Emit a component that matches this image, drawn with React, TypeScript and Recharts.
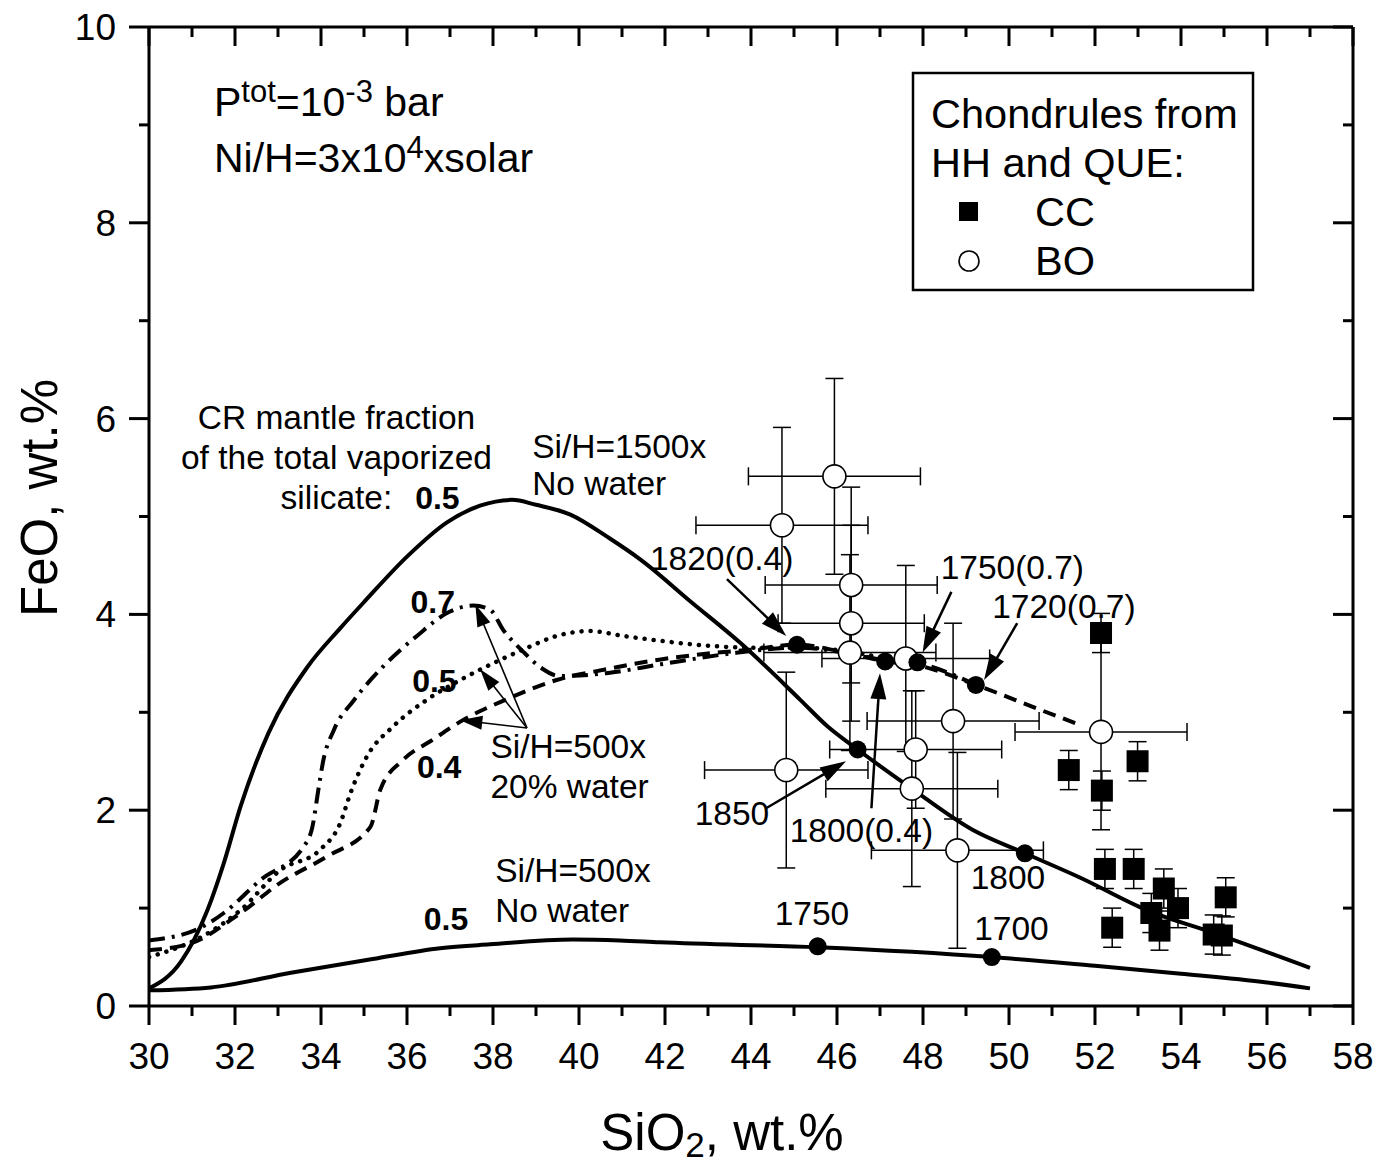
import React from 'react';
import {
  ComposedChart,
  Line,
  Scatter,
  XAxis,
  YAxis,
  ErrorBar,
  ReferenceLine,
  ReferenceDot,
} from 'recharts';

const FONT = '"Liberation Sans", Arial, Helvetica, sans-serif';
const PLOT_TOP = 27;

// ---------- axis ticks ----------
const X_TICKS = [30, 31, 32, 33, 34, 35, 36, 37, 38, 39, 40, 41, 42, 43, 44, 45, 46, 47, 48, 49, 50, 51, 52, 53, 54, 55, 56, 57, 58];
const Y_TICKS = [0, 1, 2, 3, 4, 5, 6, 7, 8, 9, 10];

// ---------- model curves (SiO2 wt.%, FeO wt.%) ----------
const curve1500NoWater = [
  { x: 30.0, y: 0.18 }, { x: 30.74, y: 0.45 }, { x: 31.36, y: 0.98 }, { x: 31.74, y: 1.46 },
  { x: 32.13, y: 2.04 }, { x: 32.78, y: 2.79 }, { x: 33.68, y: 3.46 }, { x: 34.45, y: 3.86 },
  { x: 35.03, y: 4.14 }, { x: 36.0, y: 4.59 }, { x: 36.93, y: 4.94 }, { x: 37.7, y: 5.11 },
  { x: 38.44, y: 5.17 }, { x: 39.0, y: 5.12 }, { x: 39.8, y: 5.02 }, { x: 40.7, y: 4.78 },
  { x: 41.43, y: 4.56 }, { x: 42.6, y: 4.13 }, { x: 43.75, y: 3.71 }, { x: 45.14, y: 3.13 },
  { x: 45.77, y: 2.86 }, { x: 46.48, y: 2.62 }, { x: 47.74, y: 2.22 }, { x: 49.15, y: 1.8 },
  { x: 50.37, y: 1.56 }, { x: 51.66, y: 1.31 }, { x: 53.2, y: 0.98 }, { x: 54.74, y: 0.75 },
  { x: 57.0, y: 0.39 },
];

const curve500NoWater = [
  { x: 30.0, y: 0.16 }, { x: 31.44, y: 0.19 }, { x: 33.3, y: 0.34 }, { x: 35.2, y: 0.48 },
  { x: 36.77, y: 0.59 }, { x: 37.93, y: 0.63 }, { x: 39.86, y: 0.68 }, { x: 40.95, y: 0.67 },
  { x: 41.88, y: 0.65 }, { x: 45.55, y: 0.6 }, { x: 49.6, y: 0.5 }, { x: 52.0, y: 0.41 },
  { x: 54.0, y: 0.33 }, { x: 56.0, y: 0.24 }, { x: 57.0, y: 0.18 },
];

const curveWater07 = [
  { x: 30.0, y: 0.67 }, { x: 31.2, y: 0.8 }, { x: 31.74, y: 0.95 }, { x: 32.6, y: 1.29 },
  { x: 33.6, y: 1.63 }, { x: 33.8, y: 1.83 }, { x: 33.95, y: 2.24 }, { x: 34.05, y: 2.5 },
  { x: 34.3, y: 2.82 }, { x: 34.76, y: 3.12 }, { x: 35.45, y: 3.47 }, { x: 36.23, y: 3.78 },
  { x: 37.0, y: 4.03 }, { x: 37.54, y: 4.09 }, { x: 37.93, y: 4.05 }, { x: 38.24, y: 3.84 },
  { x: 38.7, y: 3.62 }, { x: 39.1, y: 3.46 }, { x: 39.56, y: 3.37 }, { x: 40.64, y: 3.4 },
  { x: 41.9, y: 3.49 }, { x: 43.7, y: 3.61 }, { x: 45.07, y: 3.66 }, { x: 46.3, y: 3.6 },
  { x: 47.12, y: 3.53 }, { x: 47.87, y: 3.5 }, { x: 49.23, y: 3.28 },
];

const curveWater05 = [
  { x: 30.0, y: 0.5 }, { x: 31.36, y: 0.74 }, { x: 32.13, y: 0.98 }, { x: 33.06, y: 1.39 },
  { x: 33.99, y: 1.6 }, { x: 34.45, y: 1.87 }, { x: 34.69, y: 2.18 }, { x: 35.07, y: 2.55 },
  { x: 35.69, y: 2.86 }, { x: 36.47, y: 3.13 }, { x: 37.24, y: 3.33 }, { x: 38.0, y: 3.5 },
  { x: 38.8, y: 3.66 }, { x: 39.48, y: 3.78 }, { x: 40.26, y: 3.83 }, { x: 41.03, y: 3.78 },
  { x: 41.9, y: 3.73 }, { x: 43.0, y: 3.68 }, { x: 44.0, y: 3.66 }, { x: 45.0, y: 3.66 },
  { x: 46.3, y: 3.62 }, { x: 47.1, y: 3.55 }, { x: 47.6, y: 3.5 },
];

const curveWater04 = [
  { x: 30.0, y: 0.57 }, { x: 30.97, y: 0.64 }, { x: 32.13, y: 0.95 }, { x: 33.06, y: 1.26 },
  { x: 34.15, y: 1.53 }, { x: 35.15, y: 1.83 }, { x: 35.38, y: 2.21 }, { x: 35.9, y: 2.51 },
  { x: 36.6, y: 2.72 }, { x: 37.3, y: 2.92 }, { x: 38.3, y: 3.13 }, { x: 39.48, y: 3.33 },
  { x: 40.64, y: 3.44 }, { x: 41.9, y: 3.54 }, { x: 43.0, y: 3.6 }, { x: 44.0, y: 3.64 },
  { x: 45.07, y: 3.69 }, { x: 46.3, y: 3.6 }, { x: 47.12, y: 3.52 }, { x: 47.87, y: 3.48 },
  { x: 49.23, y: 3.28 }, { x: 50.7, y: 3.03 }, { x: 51.6, y: 2.88 },
];

// temperature markers on the curves
const tempMarkers = [
  { x: 45.07, y: 3.69 }, { x: 47.12, y: 3.52 }, { x: 47.87, y: 3.51 }, { x: 49.23, y: 3.28 },
  { x: 46.48, y: 2.62 }, { x: 50.37, y: 1.56 }, { x: 45.55, y: 0.61 }, { x: 49.6, y: 0.5 },
];

// ---------- chondrule data ----------
const boData = [
  { x: 44.82, y: 2.41, ex: 1.9, ey: 1.0 },
  { x: 44.72, y: 4.91, ex: 2.0, ey: 1.0 },
  { x: 45.94, y: 5.41, ex: 2.0, ey: 1.0 },
  { x: 46.33, y: 4.3, ex: 2.0, ey: 1.0 },
  { x: 46.33, y: 3.91, ex: 1.7, ey: 1.0 },
  { x: 46.3, y: 3.61, ex: 2.0, ey: 1.0 },
  { x: 47.6, y: 3.55, ex: 1.95, ey: 0.95 },
  { x: 47.83, y: 2.62, ex: 2.0, ey: 0.6 },
  { x: 47.74, y: 2.22, ex: 2.0, ey: 1.0 },
  { x: 48.7, y: 2.91, ex: 2.0, ey: 1.0 },
  { x: 48.8, y: 1.59, ex: 2.0, ey: 1.0 },
  { x: 52.14, y: 2.8, ex: 2.0, ey: 1.0 },
];

const ccData = [
  { x: 52.14, y: 3.81, ey: 0.2 }, { x: 51.39, y: 2.41, ey: 0.2 }, { x: 52.16, y: 2.2, ey: 0.2 },
  { x: 52.99, y: 2.5, ey: 0.2 }, { x: 52.23, y: 1.4, ey: 0.2 }, { x: 52.9, y: 1.4, ey: 0.2 },
  { x: 52.4, y: 0.8, ey: 0.2 }, { x: 53.6, y: 1.2, ey: 0.2 }, { x: 53.31, y: 0.95, ey: 0.2 },
  { x: 53.93, y: 1.0, ey: 0.2 }, { x: 53.5, y: 0.77, ey: 0.2 }, { x: 55.04, y: 1.11, ey: 0.2 },
  { x: 54.76, y: 0.73, ey: 0.2 }, { x: 54.95, y: 0.72, ey: 0.2 },
];

// ---------- annotations ----------
const arrows = [
  { from: [43.44, 4.36], to: [44.82, 3.78], w: 2.5 },
  { from: [48.66, 4.23], to: [47.99, 3.61], w: 2.5 },
  { from: [50.19, 3.91], to: [49.42, 3.33], w: 2.5 },
  { from: [44.35, 2.02], to: [46.21, 2.5], w: 2.5 },
  { from: [46.8, 2.02], to: [47.0, 3.4], w: 2.5 },
  { from: [38.79, 2.84], to: [37.59, 4.1], w: 1.6 },
  { from: [38.79, 2.84], to: [37.7, 3.44], w: 1.6 },
  { from: [38.79, 2.84], to: [37.24, 2.92], w: 1.6 },
];

const labels = [
  { x: 34.36, y: 5.89, text: 'CR mantle fraction', anchor: 'middle' },
  { x: 34.36, y: 5.49, text: 'of the total vaporized', anchor: 'middle' },
  { x: 33.06, y: 5.08, text: 'silicate:' },
  { x: 36.19, y: 5.08, text: '0.5', bold: true },
  { x: 38.91, y: 5.6, text: 'Si/H=1500x' },
  { x: 38.91, y: 5.22, text: 'No water' },
  { x: 41.65, y: 4.45, text: '1820(0.4)' },
  { x: 48.41, y: 4.36, text: '1750(0.7)' },
  { x: 49.61, y: 3.96, text: '1720(0.7)' },
  { x: 42.69, y: 1.85, text: '1850' },
  { x: 44.9, y: 1.68, text: '1800(0.4)' },
  { x: 49.11, y: 1.19, text: '1800' },
  { x: 44.55, y: 0.83, text: '1750' },
  { x: 49.19, y: 0.67, text: '1700' },
  { x: 38.05, y: 1.27, text: 'Si/H=500x' },
  { x: 38.05, y: 0.86, text: 'No water' },
  { x: 36.39, y: 0.78, text: '0.5', bold: true },
  { x: 37.94, y: 2.53, text: 'Si/H=500x' },
  { x: 37.94, y: 2.12, text: '20% water' },
  { x: 36.08, y: 4.01, text: '0.7', bold: true },
  { x: 36.12, y: 3.21, text: '0.5', bold: true },
  { x: 36.23, y: 2.33, text: '0.4', bold: true },
];

const headerLines = [
  { x: 31.51, y: 9.09, parts: [['P', 0], ['tot', 1], ['=10', 0], ['-3', 1], [' bar', 0]] },
  { x: 31.51, y: 8.52, parts: [['Ni/H=3x10', 0], ['4', 1], ['xsolar', 0]] },
];

// ---------- renderers ----------
const tickLine = (x1: number, y1: number, x2: number, y2: number) => (
  <line x1={x1} y1={y1} x2={x2} y2={y2} stroke="#000" strokeWidth={3} />
);

// bottom axis tick: outward tick + label, plus the matching inward tick on the top frame
const BottomTick = (p: any) => {
  const v = p.payload.value;
  const major = v % 2 === 0;
  const len = major ? 19 : 10;
  return (
    <g>
      {tickLine(p.x, p.y, p.x, p.y + len)}
      {tickLine(p.x, PLOT_TOP, p.x, PLOT_TOP + len)}
      {major && (
        <text x={p.x} y={p.y + 63} textAnchor="middle" fontSize={37} fontFamily={FONT} fill="#000">
          {v}
        </text>
      )}
    </g>
  );
};
const LeftTick = (p: any) => {
  const v = p.payload.value;
  const major = v % 2 === 0;
  return (
    <g>
      {tickLine(p.x, p.y, p.x - (major ? 20 : 10), p.y)}
      {major && (
        <text x={p.x - 33} y={p.y + 13} textAnchor="end" fontSize={37} fontFamily={FONT} fill="#000">
          {v}
        </text>
      )}
    </g>
  );
};
const RightTick = (p: any) => {
  const v = p.payload.value;
  const major = v % 2 === 0;
  return <g>{tickLine(p.x, p.y, p.x - (major ? 20 : 10), p.y)}</g>;
};

const ArrowShape = (w: number) => (p: any) => {
  const { x1, y1, x2, y2 } = p;
  const dx = x2 - x1;
  const dy = y2 - y1;
  const len = Math.hypot(dx, dy) || 1;
  const ux = dx / len;
  const uy = dy / len;
  const hl = w > 2 ? 26 : 22;
  const hw = w > 2 ? 8 : 7;
  const bx = x2 - ux * hl;
  const by = y2 - uy * hl;
  return (
    <g>
      <line x1={x1} y1={y1} x2={bx + ux * 2} y2={by + uy * 2} stroke="#000" strokeWidth={w} />
      <polygon
        points={`${x2},${y2} ${bx - uy * hw},${by + ux * hw} ${bx + uy * hw},${by - ux * hw}`}
        fill="#000"
      />
    </g>
  );
};

const TextShape = (a: any) => (p: any) => (
  <text
    x={p.cx}
    y={p.cy}
    textAnchor={a.anchor || 'start'}
    fontSize={a.bold ? 32 : 33.5}
    fontWeight={a.bold ? 'bold' : 'normal'}
    fontFamily={FONT}
    fill="#000"
  >
    {a.text}
  </text>
);

const HeaderShape = (h: any) => (p: any) => {
  let prevSup = 0;
  return (
    <text x={p.cx} y={p.cy} fontSize={41} fontFamily={FONT} fill="#000">
      {h.parts.map((part: any, i: number) => {
        const sup = part[1];
        const dy = sup === prevSup ? 0 : sup ? -14 : 14;
        prevSup = sup;
        return (
          <tspan key={i} dy={dy} fontSize={sup ? 31 : 41}>
            {part[0]}
          </tspan>
        );
      })}
    </text>
  );
};

const SquareShape = (p: any) => (
  <rect x={p.cx - 11} y={p.cy - 11} width={22} height={22} fill="#000" />
);
const OpenCircleShape = (p: any) => (
  <circle cx={p.cx} cy={p.cy} r={11.5} fill="#fff" stroke="#000" strokeWidth={1.6} />
);
const DotShape = (p: any) => <circle cx={p.cx} cy={p.cy} r={9} fill="#000" />;

export default function App() {
  return (
    <div style={{ position: 'absolute', left: 0, top: 0, width: 1380, height: 1169, background: '#fff' }}>
      <ComposedChart
        width={1380}
        height={1169}
        margin={{ top: 26, right: 26, left: 0, bottom: 0 }}
      >
        <XAxis
          xAxisId={0}
          type="number"
          dataKey="x"
          domain={[30, 58]}
          ticks={X_TICKS}
          interval={0}
          height={163}
          tickSize={0}
          tickMargin={0}
          tickLine={false}
          axisLine={{ stroke: '#000', strokeWidth: 3 }}
          tick={<BottomTick />}
          allowDataOverflow
        />
        <XAxis
          xAxisId="top"
          orientation="top"
          type="number"
          domain={[30, 58]}
          ticks={X_TICKS}
          interval={0}
          height={1}
          tickSize={0}
          tickMargin={0}
          tickLine={false}
          axisLine={{ stroke: '#000', strokeWidth: 3 }}
          tick={false}
          allowDataOverflow
        />
        <YAxis
          yAxisId={0}
          type="number"
          dataKey="y"
          domain={[0, 10]}
          ticks={Y_TICKS}
          interval={0}
          width={149}
          tickSize={0}
          tickMargin={0}
          tickLine={false}
          axisLine={{ stroke: '#000', strokeWidth: 3 }}
          tick={<LeftTick />}
          allowDataOverflow
        />
        <YAxis
          yAxisId="right"
          orientation="right"
          type="number"
          domain={[0, 10]}
          ticks={Y_TICKS}
          interval={0}
          width={1}
          tickSize={0}
          tickMargin={0}
          tickLine={false}
          axisLine={{ stroke: '#000', strokeWidth: 3 }}
          tick={<RightTick />}
          allowDataOverflow
        />

        <Scatter data={boData} dataKey="y" shape={OpenCircleShape} isAnimationActive={false}>
          <ErrorBar dataKey="ex" direction="x" width={9} stroke="#000" strokeWidth={1.5} />
          <ErrorBar dataKey="ey" direction="y" width={9} stroke="#000" strokeWidth={1.5} />
        </Scatter>
        <Scatter data={ccData} dataKey="y" shape={SquareShape} isAnimationActive={false}>
          <ErrorBar dataKey="ey" direction="y" width={9} stroke="#000" strokeWidth={1.5} />
        </Scatter>

        <Line data={curve1500NoWater} dataKey="y" type="monotoneX" stroke="#000" strokeWidth={4} dot={false} isAnimationActive={false} />
        <Line data={curve500NoWater} dataKey="y" type="monotoneX" stroke="#000" strokeWidth={4} dot={false} isAnimationActive={false} />
        <Line data={curveWater07} dataKey="y" type="monotoneX" stroke="#000" strokeWidth={4} strokeDasharray="16 7 3 7" dot={false} isAnimationActive={false} />
        <Line data={curveWater05} dataKey="y" type="monotoneX" stroke="#000" strokeWidth={4.5} strokeDasharray="0.1 9" strokeLinecap="round" dot={false} isAnimationActive={false} />
        <Line data={curveWater04} dataKey="y" type="monotoneX" stroke="#000" strokeWidth={4} strokeDasharray="13 8" dot={false} isAnimationActive={false} />

        <Scatter data={tempMarkers} dataKey="y" shape={DotShape} isAnimationActive={false} />

        {arrows.map((a, i) => (
          <ReferenceLine
            key={'ar' + i}
            segment={[{ x: a.from[0], y: a.from[1] }, { x: a.to[0], y: a.to[1] }]}
            stroke="#000"
            shape={ArrowShape(a.w)}
          />
        ))}
        {labels.map((a, i) => (
          <ReferenceDot key={'lb' + i} x={a.x} y={a.y} r={0} shape={TextShape(a)} />
        ))}
        {headerLines.map((h, i) => (
          <ReferenceDot key={'hd' + i} x={h.x} y={h.y} r={0} shape={HeaderShape(h)} />
        ))}
      </ComposedChart>

      <svg
        width={1380}
        height={1169}
        style={{ position: 'absolute', left: 0, top: 0, pointerEvents: 'none' }}
      >
        {/* legend */}
        <rect x={913} y={73} width={340} height={217} fill="none" stroke="#000" strokeWidth={2.5} />
        <text x={931} y={128} fontSize={41.5} fontFamily={FONT} fill="#000">Chondrules from</text>
        <text x={931} y={177} fontSize={41.5} fontFamily={FONT} fill="#000">HH and QUE:</text>
        <rect x={959} y={202} width={19} height={19} fill="#000" />
        <text x={1035} y={226} fontSize={41.5} fontFamily={FONT} fill="#000">CC</text>
        <circle cx={969} cy={261} r={10} fill="#fff" stroke="#000" strokeWidth={1.6} />
        <text x={1035} y={275} fontSize={41.5} fontFamily={FONT} fill="#000">BO</text>

        {/* axis titles */}
        <text x={722} y={1150} textAnchor="middle" fontSize={51} fontFamily={FONT} fill="#000">
          SiO<tspan fontSize={35} dy={7}>2</tspan>
          <tspan dy={-7}>, wt.%</tspan>
        </text>
        <text
          x={57}
          y={498}
          textAnchor="middle"
          fontSize={51}
          fontFamily={FONT}
          fill="#000"
          transform="rotate(-90 57 498)"
        >
          FeO, wt.%
        </text>
      </svg>
    </div>
  );
}
